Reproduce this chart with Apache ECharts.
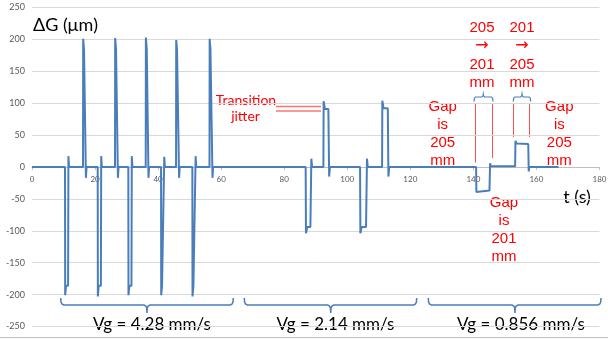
<!DOCTYPE html>
<html>
<head>
<meta charset="utf-8">
<script src="https://cdn.jsdelivr.net/npm/echarts@6/dist/echarts.min.js"></script>
<style>
html,body{margin:0;padding:0;background:#fff;}
#chart{width:608px;height:339px;}
</style>
</head>
<body>
<div id="chart"></div>
<script>
// Axis ticks
const xTicks = [0, 20, 40, 60, 80, 100, 120, 140, 160, 180];
const yTicks = [-250, -200, -150, -100, -50, 0, 50, 100, 150, 200, 250];

// Segment 1: Vg = 4.28 mm/s
const seg1Time = [0,
  10.47, 10.52, 10.8, 11.45, 11.55, 11.75,
  16.18, 16.23, 16.5, 17.0, 17.1, 17.3,
  20.84, 20.89, 21.15, 21.85, 21.95, 22.15,
  26.33, 26.38, 26.65, 27.15, 27.25, 27.45,
  30.55, 30.6, 30.9, 31.55, 31.65, 31.85,
  36.07, 36.12, 36.4, 36.85, 36.95, 37.15,
  40.93, 40.98, 41.25, 41.85, 41.95, 42.15,
  45.69, 45.74, 46.0, 46.55, 46.65, 46.85,
  50.86, 50.91, 51.2, 51.8, 51.9, 52.1,
  56.3, 56.35, 56.6, 57.15, 57.25, 57.45];
const seg1Value = [0,
  0, -201, -186, -186, 17, 0,
  0, 201, 184, 184, -17, 0,
  0, -203, -186, -186, 17, 0,
  0, 202, 185, 185, -17, 0,
  0, -201, -186, -186, 17, 0,
  0, 203, 185, 185, -17, 0,
  0, -201, -186, -186, 16, 0,
  0, 199, 184, 184, -17, 0,
  0, -203, -186, -186, 17, 0,
  0, 201, 185, 185, -17, 0];

// Segment 2: Vg = 2.14 mm/s
const seg2Time = [
  86.8, 86.9, 87.3, 88.3, 88.6, 88.85,
  92.42, 92.5, 92.9, 94.0, 94.25, 94.5,
  104.06, 104.15, 104.55, 105.95, 106.25, 106.5,
  111.04, 111.12, 111.5, 112.85, 113.05, 113.3];
const seg2Value = [
  0, -104, -94, -94, 13, 0,
  0, 103, 91, 91, -15, 0,
  0, -104, -94, -94, 13, 0,
  0, 104, 92, 92, -15, 0];

// Segment 3: Vg = 0.856 mm/s
const seg3Time = [140.86, 140.95, 141.3, 145.1, 145.3, 145.5, 153.24, 153.35, 153.7, 157.4, 157.55, 157.75, 167];
const seg3Value = [0, -39, -38, -37, 6, 1, 1, 41, 37, 36, -7, 0, 0];

const speedLabels = ['Vg = 4.28 mm/s', 'Vg = 2.14 mm/s', 'Vg = 0.856 mm/s'];

const allT = seg1Time.concat(seg2Time, seg3Time);
const allV = seg1Value.concat(seg2Value, seg3Value);
const lineData = allT.map((t, i) => [t, allV[i]]);

const chart = echarts.init(document.getElementById('chart'), null, {renderer: 'canvas'});

const BLUE = '#4A7EBB';
const RED = '#FF0000';
const AX = 'Lato, "Liberation Sans", sans-serif';
const ARIAL = '"Liberation Sans", Arial, sans-serif';

const GRID_LEFT = 32, GRID_RIGHT = 8.5, GRID_TOP = 7.5, GRID_BOTTOM = 12.5;
const CH = 339;
// pixel y of value 0 on the main grid (x axis crosses there)
const zeroY = GRID_TOP + (CH - GRID_TOP - GRID_BOTTOM) * (yTicks[yTicks.length-1] / (yTicks[yTicks.length-1] - yTicks[0]));

function bigBrace(x1, x2, xc) {
  const yT = 298, yH = 305, yB = 313;
  return {
    type: 'polyline', silent: true,
    shape: { points: [
      [x1, yT], [x1 + 0.3, yH - 3], [x1 + 1.2, yH - 1], [x1 + 3, yH],
      [xc - 3, yH], [xc - 1.2, yH + 1], [xc - 0.3, yH + 3], [xc, yB],
      [xc + 0.3, yH + 3], [xc + 1.2, yH + 1], [xc + 3, yH],
      [x2 - 3, yH], [x2 - 1.2, yH - 1], [x2 - 0.3, yH - 3], [x2, yT]
    ] },
    style: { stroke: BLUE, fill: null, lineWidth: 1.5 }
  };
}
function smallBrace(x1, x2, xc) {
  const yB = 101.5, yH = 97, yT = 94;
  return {
    type: 'polyline', silent: true,
    shape: { points: [
      [x1, yB], [x1 + 0.3, yH + 1.5], [x1 + 1.5, yH],
      [xc - 1.5, yH], [xc - 0.3, yH - 1], [xc, yT],
      [xc + 0.3, yH - 1], [xc + 1.5, yH],
      [x2 - 1.5, yH], [x2 - 0.3, yH + 1.5], [x2, yB]
    ] },
    style: { stroke: BLUE, fill: null, lineWidth: 1.2 }
  };
}
function vline(x, y1, y2) {
  return { type: 'line', silent: true, shape: {x1: x, y1: y1, x2: x, y2: y2}, style: {stroke: '#FF5050', lineWidth: 1} };
}
function redLines(x, yMid, lines, lh) {
  return lines.map((s, i) => ({
    type: 'text', silent: true, x: x, y: yMid + i * lh,
    style: {
      text: s, fill: RED,
      font: (s === '→' ? '16px "DejaVu Sans", sans-serif' : '15px ' + ARIAL),
      align: 'center', verticalAlign: 'middle'
    }
  }));
}

const option = {
  animation: false,
  backgroundColor: '#ffffff',
  grid: [
    { left: GRID_LEFT, right: GRID_RIGHT, top: GRID_TOP, bottom: GRID_BOTTOM, containLabel: false, outerBoundsMode: 'none' },
    // thin helper grid whose bottom edge sits on the y = 0 line: carries the x axis
    { left: GRID_LEFT, right: GRID_RIGHT, top: zeroY - 4, height: 4, containLabel: false, outerBoundsMode: 'none' }
  ],
  xAxis: [
    {
      gridIndex: 0, type: 'value', min: xTicks[0], max: xTicks[xTicks.length-1], interval: 20,
      axisLine: { show: false }, axisTick: { show: false }, axisLabel: { show: false },
      splitLine: { show: false }
    },
    {
      gridIndex: 1, type: 'value', min: xTicks[0], max: xTicks[xTicks.length-1], interval: 20,
      position: 'bottom',
      axisLine: { show: true, onZero: false, lineStyle: { color: '#BFBFBF', width: 1 } },
      axisTick: { show: true, length: 3, lineStyle: { color: '#BFBFBF' } },
      axisLabel: { color: '#595959', fontSize: 8, fontFamily: AX, margin: 8 },
      splitLine: { show: false }
    }
  ],
  yAxis: [
    {
      gridIndex: 0, type: 'value', min: yTicks[0], max: yTicks[yTicks.length-1], interval: 50,
      axisLine: { show: false, onZero: false }, axisTick: { show: false },
      axisLabel: { color: '#595959', fontSize: 9, fontFamily: AX, margin: 7 },
      splitLine: { show: true, lineStyle: { color: '#D9D9D9', width: 1 } }
    },
    {
      gridIndex: 1, type: 'value', min: 0, max: 1, show: false,
      axisLine: { show: false }, axisTick: { show: false }, axisLabel: { show: false }, splitLine: { show: false }
    }
  ],
  series: [{
    type: 'line', xAxisIndex: 0, yAxisIndex: 0, data: lineData, showSymbol: false, symbol: 'none',
    lineStyle: { color: BLUE, width: 2 }, smooth: false, z: 5
  }],
  graphic: [
    { type: 'line', silent: true, shape: {x1: 0, y1: 337.5, x2: 608, y2: 337.5}, style: {stroke: '#BFBFBF', lineWidth: 1} },
    { type: 'text', x: 33, y: 25, style: { text: 'ΔG (μm)', fill: '#000', font: '18px ' + AX, align: 'left', verticalAlign: 'middle' } },
    { type: 'text', x: 577, y: 197, style: { text: 't (s)', fill: '#000', font: '18px ' + AX, align: 'center', verticalAlign: 'middle' } },
    bigBrace(60.7, 233.3, 147),
    bigBrace(244.3, 416.7, 330.7),
    bigBrace(428.3, 601, 515),
    { type: 'text', x: 152, y: 325, style: { text: speedLabels[0], fill: '#000', font: '17px ' + AX, align: 'center', verticalAlign: 'middle' } },
    { type: 'text', x: 335.5, y: 325, style: { text: speedLabels[1], fill: '#000', font: '17px ' + AX, align: 'center', verticalAlign: 'middle' } },
    { type: 'text', x: 521, y: 325, style: { text: speedLabels[2], fill: '#000', font: '17px ' + AX, align: 'center', verticalAlign: 'middle' } },
    // Transition jitter
    { type: 'text', x: 246, y: 100.5, style: { text: 'Transition', fill: RED, font: '14px ' + AX, align: 'center', verticalAlign: 'middle' } },
    { type: 'text', x: 245.5, y: 116.5, style: { text: 'jitter', fill: RED, font: '14px ' + AX, align: 'center', verticalAlign: 'middle' } },
    { type: 'line', silent: true, shape: {x1: 276, y1: 106.5, x2: 321, y2: 106.5}, style: {stroke: '#FF7070', lineWidth: 1.5} },
    { type: 'line', silent: true, shape: {x1: 276, y1: 111, x2: 321, y2: 111}, style: {stroke: '#FF3030', lineWidth: 1} },
    // gap annotations
    ...redLines(482, 27.8, ['205', '→', '201', 'mm'], 18.5),
    ...redLines(522, 27.8, ['201', '→', '205', 'mm'], 18.5),
    smallBrace(474, 493, 483.3),
    smallBrace(513.3, 530.7, 522),
    vline(475.5, 104, 162.5),
    vline(492.5, 104, 158),
    vline(513.5, 104, 137),
    vline(529.5, 104, 137),
    ...redLines(442.7, 106.7, ['Gap', 'is', '205', 'mm'], 18),
    ...redLines(559.3, 106.7, ['Gap', 'is', '205', 'mm'], 18),
    ...redLines(504, 203, ['Gap', 'is', '201', 'mm'], 18)
  ]
};
chart.setOption(option);
</script>
</body>
</html>
